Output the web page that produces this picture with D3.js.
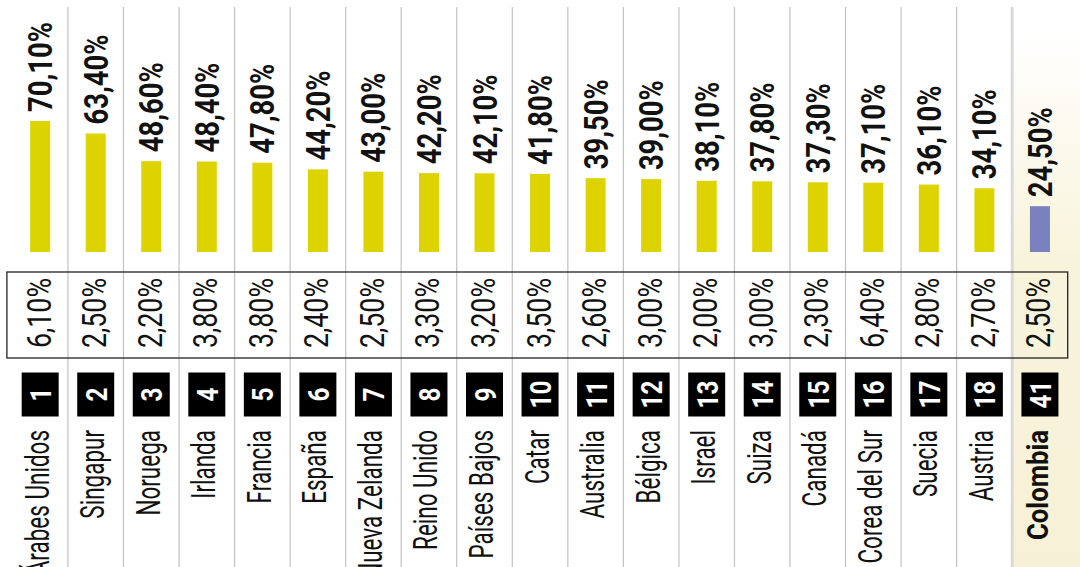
<!DOCTYPE html>
<html>
<head>
<meta charset="utf-8">
<script src="https://cdn.jsdelivr.net/npm/d3@7"></script>
<style>
  html, body { margin: 0; padding: 0; background: #fff; }
  svg { display: block; }
</style>
</head>
<body>
<div id="chart"></div>
<script>
// Countries ranking: main share (bars) and second figure (boxed row)
var countries = ['Emiratos Árabes Unidos', 'Singapur', 'Noruega', 'Irlanda', 'Francia', 'España',
  'Nueva Zelanda', 'Reino Unido', 'Países Bajos', 'Catar', 'Australia', 'Bélgica', 'Israel',
  'Suiza', 'Canadá', 'Corea del Sur', 'Suecia', 'Austria', 'Colombia'];
var ranks = [1, 2, 3, 4, 5, 6, 7, 8, 9, 10, 11, 12, 13, 14, 15, 16, 17, 18, 41];
var mainValues = [70.1, 63.4, 48.6, 48.4, 47.8, 44.2, 43.0, 42.2, 42.1, 41.8, 39.5, 39.0, 38.1,
  37.8, 37.3, 37.1, 36.1, 34.1, 24.5];
var secondValues = [6.1, 2.5, 2.2, 3.8, 3.8, 2.4, 2.5, 3.3, 3.2, 3.5, 2.6, 3.0, 2.0, 3.0, 2.3,
  6.4, 2.8, 2.7, 2.5];
var highlight = 'Colombia';

(function() {
  'use strict';

  var width = 1080, height = 567;
  var FONT = 'Roboto, "Noto Sans", "DejaVu Sans", sans-serif';
  var yellow = '#dcd300', purple = '#7b80bf', ink = '#111';

  var fmt = d3.format('.2f');
  function pct(v) { return fmt(v).replace('.', ',') + '%'; }

  var rows = countries.map(function(c, i) {
    return { name: c, rank: ranks[i], value: mainValues[i], second: secondValues[i], hi: c === highlight };
  });

  var svg = d3.select('#chart').append('svg')
    .attr('width', width)
    .attr('height', height)
    .attr('viewBox', '0 0 ' + width + ' ' + height);

  // The reference uses a condensed face; squeeze a normal one to the same run length
  function fitScale(sample, size, weight, target) {
    var t = svg.append('text').text(sample)
      .style('font-family', FONT).style('font-size', size + 'px').style('font-weight', weight);
    var len = t.node().getComputedTextLength();
    t.remove();
    return len ? target / len : 1;
  }
  var sValue = fitScale('70,10%', 33, 700, 90);
  var sSecond = fitScale('2,50%', 32.5, 400, 70);
  var sName = fitScale('Reino Unido', 34, 400, 120);
  var sHiName = fitScale('Colombia', 30, 700, 110);
  var sRank = fitScale('10', 30, 700, 28);

  var x = d3.scaleBand().domain(countries).range([12.4, 1067.7]).padding(0);
  var y = d3.scaleLinear().domain([0, 70.1]).range([252, 121]);
  var bw = x.bandwidth();
  function cx(d) { return x(d.name) + bw / 2; }

  // Highlight column background
  var grad = svg.append('defs').append('linearGradient')
    .attr('id', 'hiGrad').attr('x1', 0).attr('y1', 0).attr('x2', 0).attr('y2', 1);
  grad.append('stop').attr('offset', '0.05').attr('stop-color', '#ffffff');
  grad.append('stop').attr('offset', '0.45').attr('stop-color', '#f8f4dc');
  grad.append('stop').attr('offset', '1').attr('stop-color', '#f6f1d6');

  svg.append('rect')
    .attr('x', x(highlight))
    .attr('y', 0)
    .attr('width', width - x(highlight))
    .attr('height', height)
    .style('fill', 'url(#hiGrad)');

  // Column separators
  svg.append('g')
    .selectAll('line')
    .data(countries.slice(1))
    .join('line')
    .attr('x1', function(c) { return x(c); })
    .attr('x2', function(c) { return x(c); })
    .attr('y1', 7)
    .attr('y2', height)
    .style('stroke', function(c) { return c === highlight ? '#d9d9d9' : '#c2c2c2'; })
    .style('stroke-width', function(c) { return c === highlight ? 3 : 1.2; });

  // Bars
  svg.append('g')
    .selectAll('rect')
    .data(rows)
    .join('rect')
    .attr('x', function(d) { return cx(d) - 10; })
    .attr('y', function(d) { return y(d.value); })
    .attr('width', 20)
    .attr('height', function(d) { return y(0) - y(d.value); })
    .style('fill', function(d) { return d.hi ? purple : yellow; });

  // Bar value labels
  svg.append('g')
    .selectAll('text')
    .data(rows)
    .join('text')
    .attr('transform', function(d) {
      return 'translate(' + (cx(d) + 12) + ',' + (y(d.value) - 9) + ') rotate(-90) scale(' + sValue + ',1)';
    })
    .text(function(d) { return pct(d.value); })
    .style('font-family', FONT)
    .style('font-weight', '700')
    .style('font-size', '33px')
    .style('fill', ink);

  // Second figure row, boxed
  svg.append('rect')
    .attr('x', x.range()[0] - 5.5)
    .attr('y', 272)
    .attr('width', x.range()[1] - x.range()[0] + 5.5)
    .attr('height', 86)
    .style('fill', 'none')
    .style('stroke', '#222')
    .style('stroke-width', 1.3);

  svg.append('g')
    .selectAll('text')
    .data(rows)
    .join('text')
    .attr('transform', function(d) {
      return 'translate(' + (cx(d) + 10.5) + ',348) rotate(-90) scale(' + sSecond + ',1)';
    })
    .text(function(d) { return pct(d.second); })
    .style('font-family', FONT)
    .style('font-weight', '400')
    .style('font-size', '32.5px')
    .style('fill', ink);

  // Rank badges
  var badge = svg.append('g')
    .selectAll('g')
    .data(rows)
    .join('g')
    .attr('transform', function(d) { return 'translate(' + cx(d) + ',394.5)'; });

  badge.append('rect')
    .attr('x', -18.5)
    .attr('y', -22)
    .attr('width', 37)
    .attr('height', 44)
    .style('fill', '#000');

  badge.append('text')
    .attr('transform', 'translate(11,0) rotate(-90) scale(' + sRank + ',1)')
    .attr('text-anchor', 'middle')
    .text(function(d) { return d.rank; })
    .style('font-family', FONT)
    .style('font-weight', '700')
    .style('font-size', '30px')
    .style('fill', '#fff');

  // Country names
  svg.append('g')
    .selectAll('text')
    .data(rows)
    .join('text')
    .attr('transform', function(d) {
      return 'translate(' + (cx(d) + 8.5) + ',430) rotate(-90) scale(' + (d.hi ? sHiName : sName) + ',1)';
    })
    .attr('text-anchor', 'end')
    .text(function(d) { return d.name; })
    .style('font-family', FONT)
    .style('font-weight', function(d) { return d.hi ? '700' : '400'; })
    .style('font-size', function(d) { return d.hi ? '30px' : '34px'; })
    .style('fill', ink);
})();
</script>
</body>
</html>
